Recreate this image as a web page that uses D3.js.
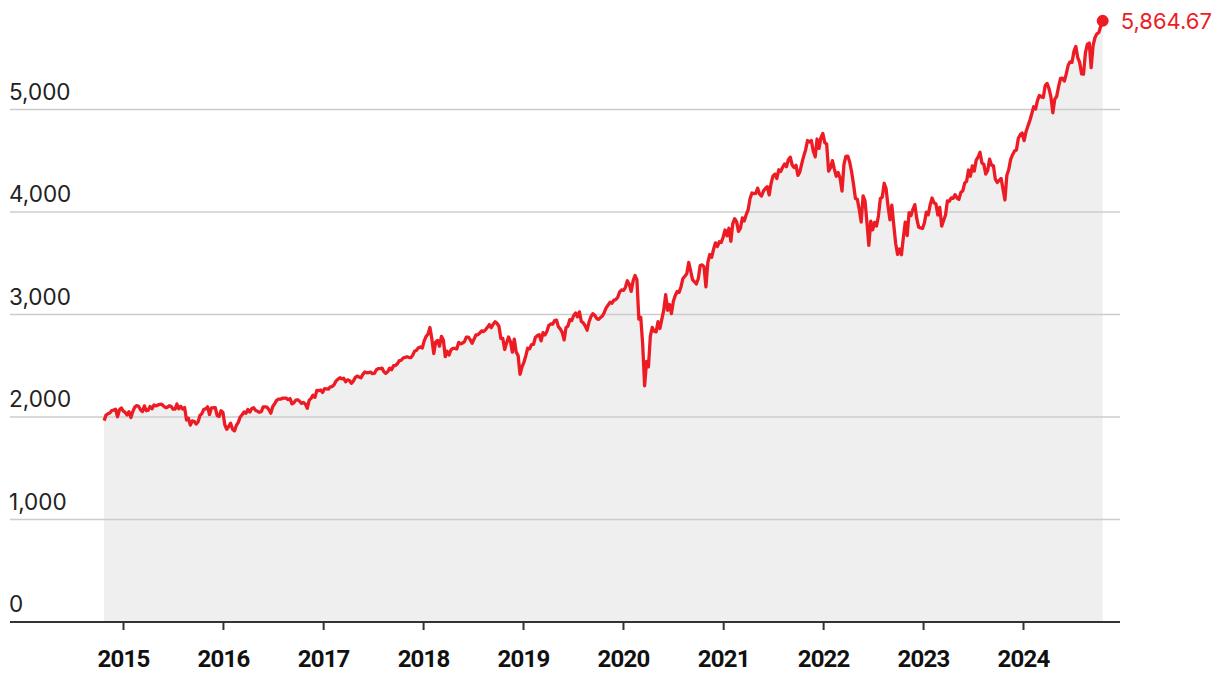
<!DOCTYPE html>
<html>
<head>
<meta charset="utf-8">
<script src="https://cdn.jsdelivr.net/npm/d3@7"></script>
<style>
  html, body { margin: 0; padding: 0; background: #fff; }
  svg { display: block; }
</style>
</head>
<body>
<svg id="chart" width="1220" height="680"></svg>
<script>
// Weekly closes (Fridays), first week ending 2014-10-24
const startWeek = "2014-10-24";
const v2014 = [1964.58,2018.05,2031.92,2039.82,2063.50,2067.56,2075.37,2002.33,2070.65,2088.77];
const v2015 = [2058.20,2044.81,2019.42,2051.82,1994.99,2055.47,2096.99,2110.30,2104.50,2071.26,2053.40,2108.10,2061.02,2066.96,2102.06,2081.18,2117.69,2108.29,2116.10,2122.73,2126.06,2107.39,2092.83,2094.11,2109.99,2101.49,2076.78,2076.62,2126.64,2079.65,2103.84,2077.57,2091.54,1970.89,1988.87,1921.22,1961.05,1958.03,1931.34,1951.36,2014.89,2033.11,2075.15,2079.36,2099.20,2023.04,2089.17,2090.11,2091.69,2012.37,2005.55,2060.99,2043.94];
const v2016 = [1922.03,1880.33,1906.90,1940.24,1880.05,1864.78,1917.78,1948.05,1999.99,2022.19,2049.58,2035.94,2072.78,2047.60,2080.73,2091.58,2065.30,2057.14,2046.61,2052.32,2099.06,2099.13,2096.07,2071.22,2037.41,2102.95,2129.90,2161.74,2175.03,2173.60,2182.87,2184.05,2183.87,2169.04,2179.98,2127.81,2139.16,2164.69,2168.27,2153.74,2132.98,2141.16,2126.41,2085.18,2164.45,2181.90,2213.35,2191.95,2259.53,2258.07,2263.79,2238.83];
const v2017 = [2276.98,2274.64,2271.31,2294.69,2297.42,2316.10,2351.16,2367.34,2383.12,2372.60,2378.25,2343.98,2362.72,2355.54,2328.95,2348.69,2384.20,2399.29,2390.90,2381.73,2415.82,2439.07,2431.77,2433.15,2438.30,2423.41,2425.18,2459.27,2472.54,2472.10,2476.83,2441.32,2425.55,2443.05,2476.55,2461.43,2500.23,2502.22,2519.36,2549.33,2553.17,2575.21,2581.07,2587.84,2582.30,2578.85,2602.42,2642.22,2651.50,2675.81,2683.34,2673.61];
const v2018 = [2743.15,2786.24,2810.30,2872.87,2762.13,2619.55,2732.22,2747.30,2691.25,2786.57,2752.01,2588.26,2640.87,2604.47,2656.30,2670.14,2669.91,2663.42,2727.72,2712.97,2721.33,2734.62,2779.03,2779.66,2754.88,2718.37,2759.82,2801.31,2801.83,2818.82,2840.35,2833.28,2850.13,2874.69,2901.52,2871.68,2904.98,2929.67,2913.98,2885.57,2767.13,2767.78,2658.69,2723.06,2781.01,2736.27,2632.56,2760.17,2633.08,2599.95,2416.62,2485.74];
const v2019 = [2531.94,2596.26,2670.71,2664.76,2706.53,2707.88,2775.60,2792.67,2803.69,2743.07,2822.48,2800.71,2834.40,2892.74,2907.41,2905.03,2939.88,2945.64,2881.40,2859.53,2826.06,2752.06,2873.34,2886.98,2950.46,2941.76,2990.41,3013.77,2976.61,3025.86,2932.05,2918.65,2888.68,2847.11,2926.46,2978.71,3007.39,2992.07,2961.79,2952.01,2970.27,2986.20,3022.55,3066.91,3093.08,3120.46,3110.29,3140.98,3145.91,3168.80,3221.22,3240.02];
const v2020 = [3234.85,3265.35,3329.62,3295.47,3225.52,3327.71,3380.16,3337.75,2954.22,2972.37,2711.02,2304.92,2541.47,2488.65,2789.82,2874.56,2836.74,2830.71,2929.80,2863.70,2955.45,3044.31,3193.93,3041.31,3097.74,3009.05,3130.01,3185.04,3224.73,3215.63,3271.12,3351.28,3372.85,3397.16,3508.01,3426.96,3340.97,3319.47,3298.46,3348.44,3477.14,3483.81,3465.39,3269.96,3509.44,3585.15,3557.54,3638.35,3699.12,3663.46,3709.41,3703.06,3756.07];
const v2021 = [3824.68,3768.25,3841.47,3714.24,3886.83,3934.83,3906.71,3811.15,3841.94,3943.34,3913.10,3974.54,4019.87,4128.80,4185.47,4180.17,4181.17,4232.60,4173.85,4155.86,4204.11,4229.89,4247.44,4166.45,4280.70,4352.34,4369.55,4327.16,4411.79,4395.26,4436.52,4468.00,4441.67,4509.37,4535.43,4458.58,4432.99,4455.48,4357.04,4391.34,4471.37,4544.90,4605.38,4697.53,4682.85,4697.96,4594.62,4538.43,4712.02,4620.64,4725.79,4766.18];
const v2022 = [4677.03,4662.85,4397.94,4431.85,4500.53,4418.64,4348.87,4384.65,4328.87,4204.31,4463.12,4543.06,4545.86,4488.28,4392.59,4271.78,4131.93,4123.34,4023.89,3901.36,4158.24,4108.54,3900.86,3674.84,3911.74,3825.33,3899.38,3863.16,3961.63,4130.29,4145.19,4280.15,4228.48,4057.66,3924.26,4067.36,3873.33,3693.23,3585.62,3639.66,3583.07,3752.75,3901.06,3770.55,3992.93,3965.34,4026.12,4071.70,3934.38,3852.36,3844.82,3839.50];
const v2023 = [3895.08,3999.09,3972.61,4070.56,4136.48,4090.46,4079.09,3970.04,4045.64,3861.59,3916.64,3970.99,4109.31,4105.02,4137.64,4133.52,4169.48,4136.25,4124.08,4191.98,4205.45,4282.37,4298.86,4409.59,4348.33,4450.38,4398.95,4505.42,4536.34,4582.23,4478.03,4464.05,4369.71,4405.71,4515.77,4457.49,4450.32,4320.06,4288.05,4308.50,4327.78,4224.16,4117.37,4358.34,4415.24,4514.02,4559.34,4594.63,4604.37,4719.19,4754.63,4769.83];
const v2024 = [4697.24,4783.83,4839.81,4890.97,4958.61,5026.61,5005.57,5088.80,5137.08,5123.69,5117.09,5234.18,5254.35,5204.34,5123.41,4967.23,5099.96,5127.79,5222.68,5303.27,5304.72,5277.51,5346.99,5431.60,5464.62,5460.48,5567.19,5615.35,5505.00,5459.10,5346.56,5344.16,5554.25,5634.61,5648.40,5408.42,5626.02,5702.55,5738.17,5751.07,5815.03,5864.67];

const yTicks = [0, 1000, 2000, 3000, 4000, 5000];
const yearTicks = [2015, 2016, 2017, 2018, 2019, 2020, 2021, 2022, 2023, 2024];
const lastLabel = "5,864.67";

const values = [].concat(v2014, v2015, v2016, v2017, v2018, v2019, v2020, v2021, v2022, v2023, v2024);
const parse = d3.utcParse("%Y-%m-%d");
const s = parse(startWeek);
const dates = d3.utcFriday.range(s, d3.utcDay.offset(s, values.length * 7));
const data = values.map((v, i) => ({ date: dates[i], value: v }));

const svg = d3.select("#chart");
const x = d3.scaleUtc().domain([new Date(Date.UTC(2015,0,1)), new Date(Date.UTC(2024,0,1))]).range([123, 1023]);
const y = d3.scaleLinear().domain([0, 5000]).range([622, 109.5]);

const RED = "#ed1c24";

// area
svg.append("path")
  .datum(data)
  .attr("fill", "#efefef")
  .attr("d", d3.area().x(d => x(d.date)).y0(y(0)).y1(d => y(d.value)));

// gridlines
svg.append("g").selectAll("line")
  .data(yTicks.filter(t => t > 0))
  .join("line")
  .attr("x1", 10).attr("x2", 1120)
  .attr("y1", d => y(d)).attr("y2", d => y(d))
  .attr("stroke", "#cccccc").attr("stroke-width", 1.6);

// y labels
svg.append("g").selectAll("text")
  .data(yTicks)
  .join("text")
  .attr("x", 9)
  .attr("y", d => y(d) - 10)
  .attr("font-family", "Inter, Roboto, sans-serif")
  .attr("font-size", 22.5)
  .attr("fill", "#222")
  .text(d => d3.format(",")(d));

// x axis
const xAxis = d3.axisBottom(x)
  .tickValues(yearTicks.map(yr => new Date(Date.UTC(yr, 0, 1))))
  .tickFormat(d3.utcFormat("%Y"))
  .tickSize(8)
  .tickPadding(20);
const gx = svg.append("g").attr("transform", `translate(0,${y(0)})`).call(xAxis);
gx.select(".domain").remove();
gx.selectAll(".tick line").attr("stroke", "#333").attr("stroke-width", 2);
gx.selectAll(".tick text")
  .attr("font-family", "Roboto, sans-serif")
  .attr("font-size", 24)
  .attr("font-weight", 700)
  .attr("letter-spacing", "-0.8px")
  .attr("fill", "#111");
svg.append("line")
  .attr("x1", 10).attr("x2", 1120)
  .attr("y1", y(0)).attr("y2", y(0))
  .attr("stroke", "#333").attr("stroke-width", 2);

// line
svg.append("path")
  .datum(data)
  .attr("fill", "none")
  .attr("stroke", RED)
  .attr("stroke-width", 3.3)
  .attr("stroke-linejoin", "round")
  .attr("d", d3.line().x(d => x(d.date)).y(d => y(d.value)));

// last point
const last = data[data.length - 1];
svg.append("circle")
  .attr("cx", x(last.date)).attr("cy", y(last.value)).attr("r", 6)
  .attr("fill", RED);
svg.append("text")
  .attr("x", x(last.date) + 18)
  .attr("y", y(last.value) + 8)
  .attr("font-family", "Inter, Roboto, sans-serif")
  .attr("font-size", 22)
  .attr("fill", RED)
  .text(lastLabel);
</script>
</body>
</html>
